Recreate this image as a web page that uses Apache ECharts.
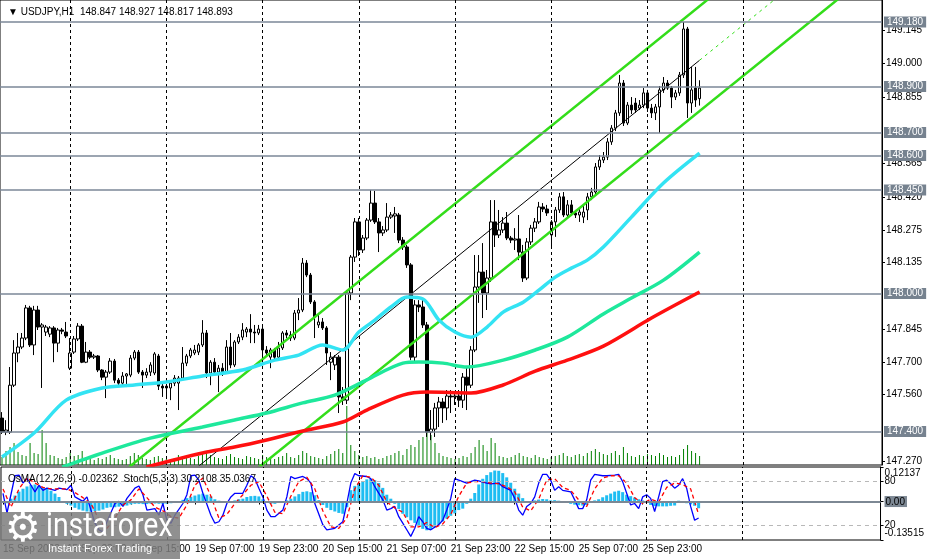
<!DOCTYPE html>
<html><head><meta charset="utf-8">
<script src="https://cdn.jsdelivr.net/npm/echarts/dist/echarts.min.js"></script>
<style>html,body{margin:0;padding:0;background:#fff}#c{width:927px;height:559px}</style>
</head><body><div id="c"></div>
<script>
// ---------- DATA ----------
const symbolTitle = 'USDJPY,H1';
const lastQuote = ['148.847', '148.927', '148.817', '148.893'];
const subTitle = 'OsMA(12,26,9) -0.02362  Stoch(5,3,3) 30.2108 35.0367';

// [open, close, low, high] per H1 bar, 15 Sep 2023 07:00 -> 26 Sep 13:00
const ohlc = [
[147.458,147.397,147.389,147.484],[147.397,147.406,147.384,147.449],[147.397,147.601,147.389,147.680],[147.601,147.741,147.593,147.797],
[147.741,147.767,147.701,147.828],[147.767,147.806,147.758,147.828],[147.806,147.937,147.797,147.950],[147.937,147.776,147.767,147.946],
[147.776,147.928,147.732,147.946],[147.928,147.854,147.841,147.946],[147.854,147.863,147.589,147.871],[147.832,147.854,147.815,147.863],
[147.823,147.850,147.810,147.858],[147.850,147.784,147.701,147.858],[147.784,147.841,147.745,147.850],[147.841,147.836,147.823,147.850],
[147.832,147.815,147.806,147.876],[147.675,147.741,147.667,147.806],[147.745,147.802,147.737,147.815],[147.802,147.858,147.793,147.871],
[147.858,147.701,147.697,147.867],[147.701,147.745,147.697,147.789],[147.745,147.723,147.715,147.754],[147.723,147.728,147.715,147.737],
[147.728,147.667,147.658,147.732],[147.667,147.636,147.623,147.671],[147.636,147.658,147.545,147.667],[147.658,147.706,147.650,147.719],
[147.706,147.623,147.610,147.715],[147.623,147.610,147.597,147.632],[147.610,147.641,147.597,147.658],[147.641,147.650,147.593,147.654],
[147.645,147.719,147.636,147.732],[147.719,147.745,147.710,147.754],[147.745,147.658,147.650,147.754],[147.658,147.645,147.589,147.667],
[147.645,147.658,147.632,147.675],[147.658,147.689,147.641,147.701],[147.654,147.737,147.645,147.745],[147.728,147.597,147.580,147.737],
[147.597,147.589,147.550,147.610],[147.597,147.589,147.545,147.606],[147.589,147.610,147.536,147.623],[147.610,147.632,147.597,147.645],
[147.610,147.632,147.493,147.641],[147.632,147.697,147.623,147.767],[147.697,147.728,147.684,147.737],[147.728,147.754,147.719,147.763],
[147.741,147.754,147.732,147.776],[147.745,147.776,147.732,147.784],[147.776,147.828,147.767,147.884],[147.828,147.654,147.632,147.841],
[147.654,147.701,147.601,147.710],[147.701,147.658,147.650,147.719],[147.658,147.675,147.571,147.689],[147.675,147.658,147.641,147.697],
[147.658,147.767,147.650,147.797],[147.767,147.689,147.675,147.828],[147.689,147.789,147.680,147.797],[147.789,147.810,147.780,147.823],
[147.810,147.841,147.797,147.871],[147.832,147.845,147.810,147.854],[147.845,147.832,147.784,147.910],[147.832,147.828,147.784,147.863],
[147.828,147.845,147.819,147.863],[147.845,147.754,147.719,147.854],[147.754,147.741,147.728,147.771],[147.723,147.754,147.675,147.763],
[147.754,147.723,147.710,147.763],[147.723,147.763,147.710,147.789],[147.763,147.828,147.754,147.836],[147.828,147.819,147.806,147.841],
[147.819,147.806,147.793,147.836],[147.806,147.915,147.797,147.928],[147.915,147.928,147.884,147.980],[147.928,148.132,147.919,148.154],
[148.132,148.080,148.071,148.145],[148.080,147.963,147.954,148.089],[147.963,147.898,147.806,147.971],[147.863,147.876,147.850,147.915],
[147.876,147.850,147.841,147.893],[147.850,147.741,147.689,147.858],[147.701,147.723,147.623,147.745],[147.689,147.723,147.667,147.732],
[147.723,147.550,147.480,147.732],[147.550,147.536,147.515,147.593],[147.536,148.002,147.519,148.015],[148.002,148.158,147.971,148.167],
[148.158,148.311,148.137,148.328],[148.311,148.189,148.163,148.328],[148.189,148.241,148.176,148.254],[148.241,148.319,148.232,148.328],
[148.319,148.393,148.311,148.450],[148.393,148.311,148.302,148.446],[148.311,148.263,148.180,148.328],[148.263,148.276,148.250,148.293],
[148.276,148.332,148.267,148.393],[148.332,148.341,148.324,148.354],[148.337,148.346,148.263,148.376],[148.341,148.232,148.219,148.350],
[148.232,148.202,148.189,148.245],[148.202,148.124,148.111,148.211],[148.124,147.723,147.710,148.132],[147.723,147.950,147.701,147.971],
[147.950,147.941,147.919,147.971],[147.941,147.863,147.850,147.971],[147.863,147.397,147.376,147.876],[147.397,147.410,147.362,147.493],
[147.410,147.502,147.376,147.524],[147.502,147.528,147.419,147.550],[147.528,147.502,147.437,147.545],[147.502,147.554,147.449,147.580],
[147.554,147.550,147.480,147.580],[147.550,147.554,147.515,147.571],[147.554,147.536,147.506,147.580],[147.536,147.636,147.502,147.654],
[147.636,147.601,147.493,147.680],[147.601,147.754,147.589,147.771],[147.754,148.028,147.745,148.167],[148.028,148.093,147.959,148.167],
[148.093,148.002,147.893,148.219],[148.002,148.067,147.928,148.102],[148.067,148.311,148.050,148.406],[148.311,148.254,148.202,148.406],
[148.254,148.276,148.241,148.363],[148.276,148.306,148.263,148.332],[148.306,148.241,148.232,148.354],[148.241,148.232,148.219,148.250],
[148.232,148.237,148.189,148.284],[148.237,148.180,148.145,148.341],[148.180,148.067,148.050,148.211],[148.067,148.224,148.058,148.241],
[148.224,148.284,148.211,148.298],[148.284,148.311,148.267,148.328],[148.311,148.376,148.302,148.398],[148.376,148.367,148.354,148.393],
[148.367,148.350,148.337,148.385],[148.254,148.311,148.202,148.319],[148.311,148.363,148.246,148.376],[148.363,148.420,148.350,148.437],
[148.420,148.341,148.332,148.441],[148.341,148.385,148.328,148.406],[148.385,148.350,148.337,148.406],[148.350,148.341,148.328,148.363],
[148.341,148.354,148.311,148.372],[148.332,148.354,148.306,148.380],[148.363,148.420,148.319,148.437],[148.420,148.441,148.406,148.459],
[148.441,148.550,148.432,148.567],[148.550,148.580,148.537,148.602],[148.580,148.593,148.567,148.615],[148.593,148.659,148.580,148.676],
[148.659,148.719,148.646,148.732],[148.719,148.785,148.706,148.798],[148.785,148.915,148.772,148.950],[148.915,148.741,148.728,148.928],
[148.741,148.819,148.732,148.832],[148.819,148.798,148.780,148.854],[148.828,148.798,148.785,148.850],[148.806,148.819,148.798,148.841],
[148.819,148.872,148.806,148.893],[148.872,148.806,148.789,148.885],[148.806,148.785,148.763,148.824],[148.785,148.811,148.754,148.824],
[148.811,148.885,148.698,148.902],[148.885,148.915,148.872,148.941],[148.915,148.893,148.885,148.928],[148.893,148.854,148.806,148.902],
[148.854,148.872,148.841,148.885],[148.872,148.950,148.859,148.963],[148.950,149.150,148.937,149.180],[149.150,148.828,148.763,149.159],
[148.828,148.885,148.785,148.985],[148.893,148.841,148.811,148.985],[148.847,148.893,148.817,148.927]
];

const volumes = [
800,1400,1800,2200,1300,1000,900,2200,1200,1100,3500,2200,1000,900,700,600,800,
1200,900,1000,1400,800,600,500,700,600,800,1000,700,600,500,600,900,1200,1000,700,600,500,800,900,700,
600,500,700,1000,900,800,700,600,900,1200,1400,1000,800,700,600,900,1100,800,700,600,900,800,700,600,
1000,800,700,600,800,900,1200,800,700,1000,1400,1200,900,800,700,600,900,1100,1400,1600,1200,5900,2000,1400,
1000,800,900,700,800,600,700,900,1000,1200,1400,1000,1600,2000,1800,2500,2800,3300,3000,2200,1200,900,800,700,
600,700,900,800,1200,1800,2500,2000,1400,2700,2200,900,800,700,800,1000,1200,900,800,700,1000,800,700,600,
800,900,1000,1200,900,800,1000,1100,900,1200,1400,1600,1300,1100,1000,1200,1400,1000,1800,1200,900,800,1000,900,
1100,1000,900,1200,1000,800,900,800,1000,1600,2000,1400,1200,900
];

// Moving averages: [bar index, price]
const maFast = [[0,147.289],[8,147.393],[16,147.536],[25,147.589],[33,147.602],[41,147.615],[50,147.641],[60,147.667],[68,147.710],[74,147.732],[80,147.776],[85,147.754],[89,147.832],[93,147.884],[97,147.941],[101,147.984],[105,147.976],[109,147.884],[113,147.832],[117,147.810],[121,147.854],[125,147.919],[130,147.962],[134,148.015],[138,148.071],[142,148.110],[146,148.145],[150,148.202],[157,148.332],[165,148.480],[174,148.610]];
const maMid = [[15,147.245],[25,147.306],[37,147.371],[50,147.419],[58,147.450],[66,147.480],[75,147.524],[83,147.558],[91,147.624],[100,147.697],[104,147.702],[110,147.697],[116,147.680],[125,147.710],[133,147.754],[141,147.810],[150,147.911],[157,147.980],[165,148.058],[174,148.180]];
const maSlow = [[36,147.245],[50,147.306],[58,147.332],[66,147.363],[75,147.402],[85,147.441],[91,147.493],[100,147.558],[106,147.571],[117,147.567],[125,147.602],[133,147.662],[141,147.710],[150,147.771],[162,147.893],[174,148.006]];

// Regression channel end points [bar index, price]
const chanUpper = [[30,147.221],[218,149.869]];
const chanMiddle = [[47,147.220],[174,149.014]];
const chanMiddleRay = [[174,149.014],[194,149.296]];
const chanLower = [[62,147.215],[218,149.413]];

const levels = [149.180, 148.900, 148.700, 148.600, 148.450, 148.000, 147.400];
const priceTicks = [149.145, 149.000, 148.855, 148.565, 148.420, 148.275, 148.135, 147.845, 147.700, 147.560, 147.270];

const osma = [
-0.005,-0.006,0.010,0.021,0.035,0.045,0.053,0.058,0.060,0.056,0.050,0.045,0.038,0.028,0.016,-0.004,-0.008,
-0.014,-0.022,-0.028,-0.032,-0.035,-0.036,-0.035,-0.032,-0.028,-0.022,-0.020,-0.020,-0.018,-0.016,-0.014,-0.010,-0.008,-0.008,-0.009,-0.009,-0.008,-0.007,-0.008,-0.009,-0.008,-0.006,-0.004,0.000,
0.006,0.012,0.017,0.021,0.025,0.028,0.024,0.018,0.008,0.003,
-0.004,-0.002,0.000,0.004,0.008,
0.010,0.016,0.019,0.020,0.018,
0.008,-0.004,-0.008,-0.008,-0.005,-0.002,0.004,0.010,
0.018,0.026,0.034,0.036,0.033,0.022,
0.005,-0.012,-0.022,-0.030,-0.035,-0.040,-0.043,-0.020,
0.040,0.055,0.065,0.072,0.078,0.080,0.075,0.065,0.048,0.024,0.010,
-0.008,-0.026,-0.043,-0.055,-0.066,-0.075,-0.085,-0.096,-0.101,-0.098,-0.090,-0.080,-0.070,-0.060,-0.050,-0.042,-0.030,
-0.025,-0.008,
0.010,0.030,0.060,0.080,0.093,0.103,0.109,0.108,0.100,0.085,0.066,0.045,0.028,0.012,
-0.001,0.002,0.004,0.007,0.009,0.008,0.004,0.005,0.003,0.000,-0.005,-0.008,-0.011,-0.013,-0.014,-0.012,-0.005,
0.004,0.008,0.015,0.022,0.028,0.035,0.038,0.033,0.024,0.019,0.014,0.008,0.004,
-0.005,-0.012,-0.016,-0.017,-0.017,-0.017,-0.015,-0.014,0.003,-0.005,-0.006,-0.010,-0.015,-0.02362
];

// Stochastic main (%K) and signal (%D) turning points: [bar index, value]
const stochMain = [[0,64],[1,37],[3,88],[4,89],[5,78],[6,84],[7,75],[8,66],[9,75],[10,68],[11,71],[13,68],[14,71],[16,69],[17,75],[18,59],[20,53],[21,59],[22,41],[23,23],[24,14],[25,11],[26,25],[28,50],[29,53],[30,46],[31,57],[33,71],[34,74],[35,62],[36,41],[38,43],[39,34],[40,50],[41,27],[42,23],[43,34],[45,50],[46,62],[47,88],[48,89],[49,82],[50,64],[52,34],[53,23],[54,25],[55,34],[56,50],[57,59],[58,64],[60,64],[61,75],[62,88],[63,84],[64,71],[65,59],[66,41],[67,32],[68,32],[70,41],[71,59],[72,87],[73,84],[75,87],[76,84],[77,78],[78,50],[80,21],[81,14],[82,15],[83,16],[85,25],[86,50],[87,78],[88,91],[89,88],[91,87],[92,84],[93,73],[95,55],[96,41],[97,43],[98,46],[99,32],[100,23],[101,14],[102,5],[103,16],[104,32],[105,25],[106,16],[107,14],[109,21],[110,27],[111,41],[112,57],[113,84],[115,80],[116,78],[117,80],[118,82],[119,81],[121,78],[122,77],[124,78],[125,73],[127,68],[128,57],[129,41],[130,34],[131,46],[132,50],[133,59],[134,78],[135,90],[136,90],[137,82],[138,68],[139,73],[140,68],[142,66],[143,55],[144,43],[145,43],[146,55],[147,82],[148,90],[150,88],[151,88],[153,89],[154,90],[155,80],[156,64],[157,48],[158,50],[159,43],[160,59],[161,62],[162,57],[163,39],[164,59],[165,80],[166,82],[167,77],[168,71],[169,75],[170,84],[171,71],[172,46],[173,27],[174,30.21]];
const stochSignal = [[0,70],[2,45],[4,70],[6,85],[8,78],[10,72],[12,70],[14,70],[16,70],[18,65],[20,58],[22,50],[24,28],[26,16],[28,30],[30,48],[32,55],[34,70],[36,58],[38,45],[40,40],[42,32],[44,30],[46,48],[48,75],[50,85],[52,60],[54,30],[56,35],[58,50],[60,62],[62,75],[64,80],[66,60],[68,38],[70,36],[72,60],[74,80],[76,86],[78,70],[80,40],[82,18],[84,16],[86,30],[88,70],[90,88],[92,86],[94,75],[96,52],[98,44],[100,38],[102,18],[104,18],[106,24],[108,17],[110,22],[112,35],[114,60],[116,78],[118,80],[120,80],[122,78],[124,77],[126,73],[128,66],[130,45],[132,40],[134,56],[136,82],[138,84],[140,72],[142,68],[144,55],[146,46],[148,70],[150,85],[152,88],[154,88],[156,78],[158,58],[160,50],[162,56],[164,52],[166,72],[168,78],[170,76],[172,70],[174,35.04]];

const daySeparators = [17, 41, 65, 89, 113, 137, 161, 185];
const xTickIdx = [0, 16, 32, 48, 64, 80, 96, 112, 128, 144, 160];
const xTickLabels = ['15 Sep 2023', '15 Sep 23:00', '18 Sep 15:00', '19 Sep 07:00', '19 Sep 23:00', '20 Sep 15:00', '21 Sep 07:00', '21 Sep 23:00', '22 Sep 15:00', '25 Sep 07:00', '25 Sep 23:00'];

// ---------- CHART ----------
const N = 220; // bars incl. empty future area
const cats = Array.from({length: N}, (_, i) => i);
const FONT = 'Liberation Sans, Arial, sans-serif';
const isTick = (idx) => xTickIdx.indexOf(idx) >= 0;

const chart = echarts.init(document.getElementById('c'), null, {renderer: 'canvas'});
const option = {
  animation: false,
  backgroundColor: '#ffffff',
  textStyle: {fontFamily: FONT},
  title: [
    {text: '▼ ' + symbolTitle + '  ' + lastQuote.join(' '), left: 3, top: 2,
     textStyle: {fontSize: 10, fontWeight: 'normal', color: '#000', fontFamily: FONT}},
    {text: subTitle, left: 3, top: 469,
     textStyle: {fontSize: 10, fontWeight: 'normal', color: '#000', fontFamily: FONT}}
  ],
  grid: [
    {left: 0, right: 45, top: 0, height: 465, show: true, borderColor: '#000', borderWidth: 1, backgroundColor: '#fff'},
    {left: 0, right: 45, top: 467, height: 73, show: true, borderColor: '#000', borderWidth: 1, backgroundColor: '#fff'}
  ],
  xAxis: [
    {type: 'category', gridIndex: 0, data: cats, boundaryGap: true,
     axisLine: {show: false}, axisTick: {show: false}, axisLabel: {show: false}, splitLine: {show: false}},
    {type: 'category', gridIndex: 1, data: cats, boundaryGap: true,
     axisLine: {show: false},
     axisTick: {show: true, alignWithLabel: true, interval: isTick, length: 3, lineStyle: {color: '#000'}},
     axisLabel: {interval: isTick, align: 'left', margin: 4, fontSize: 10, color: '#000', fontFamily: FONT,
       formatter: (v, idx) => { const k = xTickIdx.indexOf(idx); return k >= 0 ? xTickLabels[k] : ''; }},
     splitLine: {show: false}}
  ],
  yAxis: [
    {type: 'value', gridIndex: 0, position: 'right', min: 147.254, max: 149.276,
     splitLine: {show: false},
     axisLine: {show: true, lineStyle: {color: '#000'}},
     axisTick: {show: true, customValues: priceTicks, length: 3, lineStyle: {color: '#000'}},
     axisLabel: {customValues: priceTicks, formatter: (v) => v.toFixed(3), fontSize: 10, color: '#000', margin: 4, fontFamily: FONT}},
    {type: 'value', gridIndex: 0, min: 0, max: 46500, show: false},
    {type: 'value', gridIndex: 1, position: 'right', min: -0.13515, max: 0.12137,
     splitLine: {show: false},
     axisLine: {show: true, lineStyle: {color: '#000'}},
     axisTick: {show: true, customValues: [0.12137, 0, -0.13515], length: 3, lineStyle: {color: '#000'}},
     axisLabel: {customValues: [0.12137, 0, -0.13515], margin: 4, fontSize: 10, color: '#000', fontFamily: FONT,
       formatter: (v) => v > 0.1 ? '{t|0.12137}' : (v < -0.1 ? '{b|-0.13515}' : '{z|0.00}'),
       rich: {t: {padding: [13, 0, 0, 0], fontSize: 10, color: '#000'},
              b: {padding: [0, 0, 13, 0], fontSize: 10, color: '#000'},
              z: {backgroundColor: '#7d8894', color: '#000', padding: [1, 2, 0, 1], fontSize: 10}}}},
    {type: 'value', gridIndex: 1, position: 'right', min: 0, max: 100,
     splitLine: {show: false}, axisLine: {show: false},
     axisTick: {show: true, customValues: [80, 20], length: 3, lineStyle: {color: '#000'}},
     axisLabel: {customValues: [80, 20], margin: 4, fontSize: 10, color: '#000', fontFamily: FONT}}
  ],
  series: [
    {type: 'bar', name: 'volume', xAxisIndex: 0, yAxisIndex: 1, data: volumes, barWidth: 1,
     itemStyle: {color: '#008000'}, z: 1, silent: true,
     markLine: {silent: true, symbol: ['none', 'none'], label: {show: false},
       lineStyle: {color: '#000', type: [3, 3], width: 1},
       data: daySeparators.map(d => ({xAxis: d}))}},
    {type: 'candlestick', name: 'USDJPY', xAxisIndex: 0, yAxisIndex: 0, data: ohlc, barWidth: 3, z: 3,
     itemStyle: {color: '#ffffff', color0: '#000000', borderColor: '#000000', borderColor0: '#000000', borderWidth: 1},
     markLine: {silent: true, symbol: ['none', 'none'],
       lineStyle: {color: '#7b8797', width: 1.5, type: 'solid'},
       label: {show: true, position: 'end', distance: 2, formatter: (p) => p.value.toFixed(3),
               backgroundColor: '#76828f', color: '#fff', padding: [1, 3, 0, 3], fontSize: 10, fontFamily: FONT},
       data: levels.map(v => ({yAxis: v}))}},
    {type: 'line', name: 'chanUpper', data: chanUpper, showSymbol: false, z: 4, lineStyle: {color: '#33dd1a', width: 2.5}},
    {type: 'line', name: 'chanLower', data: chanLower, showSymbol: false, z: 4, lineStyle: {color: '#33dd1a', width: 2.5}},
    {type: 'line', name: 'chanMiddle', data: chanMiddle, showSymbol: false, z: 4, lineStyle: {color: '#000', width: 1}},
    {type: 'line', name: 'chanRay', data: chanMiddleRay, showSymbol: false, z: 4, lineStyle: {color: '#33dd1a', width: 1, type: [3, 4]}},
    {type: 'line', name: 'maSlow', data: maSlow, showSymbol: false, smooth: 0.3, z: 5, lineStyle: {color: '#ff1010', width: 3.5}},
    {type: 'line', name: 'maMid', data: maMid, showSymbol: false, smooth: 0.3, z: 5, lineStyle: {color: '#1ee89c', width: 3.5}},
    {type: 'line', name: 'maFast', data: maFast, showSymbol: false, smooth: 0.3, z: 5, lineStyle: {color: '#33e3f3', width: 3.5}},
    // sub window
    {type: 'bar', name: 'OsMA', xAxisIndex: 1, yAxisIndex: 2, data: osma, barWidth: 3, z: 2,
     itemStyle: {color: '#1ebdf2'},
     markLine: {silent: true, symbol: ['none', 'none'], label: {show: false},
       lineStyle: {color: '#7d8894', width: 2, type: 'solid'}, data: [{yAxis: 0}]}},
    {type: 'line', name: 'StochMain', xAxisIndex: 1, yAxisIndex: 3, data: stochMain, showSymbol: false, z: 4,
     lineStyle: {color: '#0000ff', width: 1.3},
     markLine: {silent: true, symbol: ['none', 'none'], label: {show: false},
       lineStyle: {color: '#b8b8b8', width: 1, type: [4, 4]}, data: [{yAxis: 80}, {yAxis: 20}]}},
    {type: 'line', name: 'StochSignal', xAxisIndex: 1, yAxisIndex: 3, data: stochSignal, showSymbol: false, z: 4,
     lineStyle: {color: '#ff0000', width: 1.3, type: [4, 3]},
     markLine: {silent: true, symbol: ['none', 'none'], label: {show: false},
       lineStyle: {color: '#000', type: [3, 3], width: 1},
       data: daySeparators.map(d => ({xAxis: d}))}}
  ],
  graphic: [
    {type: 'rect', z: 100, shape: {x: 0, y: 512, width: 180, height: 47}, style: {fill: 'rgba(125,125,125,0.85)'}},
    {type: 'text', z: 101, x: 5, y: 511, style: {text: '⚙', font: '40px "DejaVu Sans"', fill: '#ffffff'}},
    {type: 'text', z: 101, x: 46, y: 511, scaleX: 0.86, style: {text: 'instaforex', font: '33px Roboto', fill: '#ffffff'}},
    {type: 'text', z: 101, x: 48, y: 543, style: {text: 'Instant Forex Trading', font: '11px "Liberation Sans"', fill: '#ffffff'}}
  ]
};
chart.setOption(option);
</script></body></html>
